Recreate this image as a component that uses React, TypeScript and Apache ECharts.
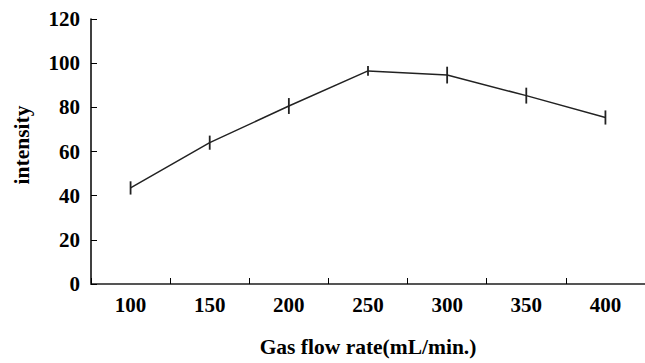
import React, { useEffect, useRef } from "react";
import * as echarts from "echarts";

const categories = ["100", "150", "200", "250", "300", "350", "400"];
const intensity = [43.5, 64, 80.6, 96.5, 94.6, 85.3, 75.4];
const errors = [3, 3.2, 3.6, 2.2, 3.8, 3.6, 3.2];

const FONT = "'Liberation Serif', 'Times New Roman', serif";

export default function App() {
  const ref = useRef<HTMLDivElement>(null);
  useEffect(() => {
    document.body.style.margin = "0";
    document.body.style.overflow = "hidden";
    if (!ref.current) return;
    const chart = echarts.init(ref.current, undefined, { renderer: "svg" });
    const errData = intensity.map((v, i) => [i, v - errors[i], v + errors[i]]);
    chart.setOption({
      animation: false,
      grid: { left: 91, top: 19, width: 560, height: 272, containLabel: false },
      xAxis: {
        type: "category",
        data: categories,
        boundaryGap: true,
        name: "Gas flow rate(mL/min.)",
        nameLocation: "middle",
        nameGap: 52,
        nameTextStyle: { fontFamily: FONT, fontWeight: "bold", fontSize: 21.5, color: "#000" },
        axisLine: { lineStyle: { color: "#555", width: 2 } },
        axisTick: { show: true, inside: true, length: 6, alignWithLabel: false, lineStyle: { color: "#000", width: 1 } },
        axisLabel: { fontFamily: FONT, fontWeight: "bold", fontSize: 21, color: "#000", margin: 10 },
        splitLine: { show: false },
      },
      yAxis: {
        type: "value",
        min: 0,
        max: 120,
        interval: 20,
        name: "intensity",
        nameLocation: "middle",
        nameGap: 58,
        nameRotate: 90,
        nameTextStyle: { fontFamily: FONT, fontWeight: "bold", fontSize: 21.5, color: "#000", padding: [0, 0, 0, 13] },
        axisLine: { show: true, lineStyle: { color: "#000", width: 1.5 } },
        axisTick: { show: true, inside: true, length: 6, lineStyle: { color: "#000", width: 1 } },
        axisLabel: { fontFamily: FONT, fontWeight: "bold", fontSize: 21, color: "#000", margin: 11 },
        splitLine: { show: false },
      },
      series: [
        {
          type: "line",
          data: intensity,
          symbol: "none",
          lineStyle: { color: "#222", width: 1.5 },
          z: 2,
        },
        {
          type: "custom",
          data: errData,
          z: 3,
          renderItem: (params: any, api: any) => {
            const x = api.value(0);
            const lo = api.coord([x, api.value(1)]);
            const hi = api.coord([x, api.value(2)]);
            return {
              type: "line",
              shape: { x1: lo[0], y1: lo[1], x2: hi[0], y2: hi[1] },
              style: { stroke: "#222", lineWidth: 1.8 },
            };
          },
        },
      ],
    });
    return () => chart.dispose();
  }, []);
  return <div ref={ref} style={{ width: 645, height: 363, overflow: "hidden" }} />;
}
